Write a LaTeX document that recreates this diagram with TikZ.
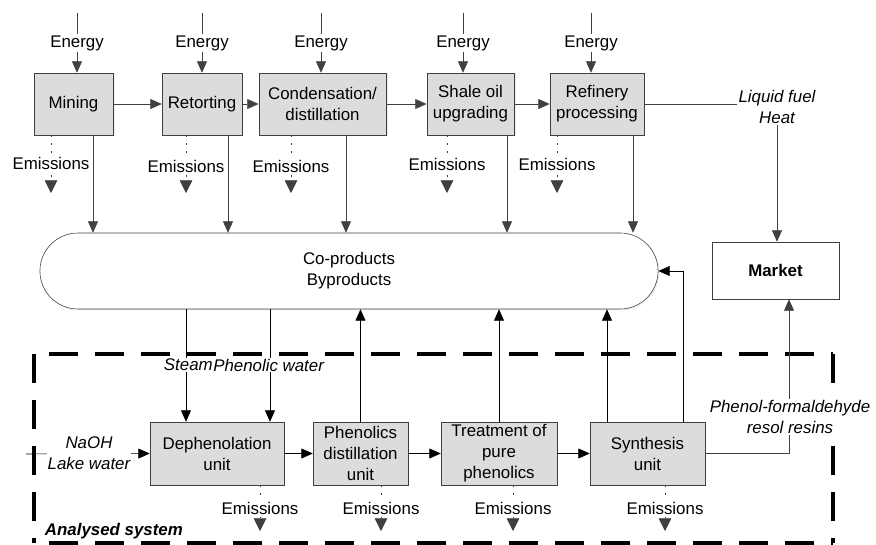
\documentclass[tikz,border=0pt]{standalone}
\usepackage{fontspec}
\setmainfont{Liberation Sans}
\usetikzlibrary{arrows.meta,shadows}

\definecolor{linegray}{RGB}{64,64,64}
\definecolor{boxgray}{RGB}{220,220,220}

\begin{document}
\begin{tikzpicture}[x=0.025cm, y=-0.025cm, font=\fontsize{12}{14.9}\selectfont,
  box/.style={draw=linegray, fill=boxgray, align=center, inner sep=0pt,
    drop shadow={shadow xshift=1pt, shadow yshift=-1pt, fill=black!15}},
  lbl/.style={fill=white, inner sep=0.6pt, align=center},
  pfeil/.style={-{Triangle[width=7pt,length=8pt]}},
  emis/.style={linegray, dash pattern=on 1.2pt off 4.5pt, -{Triangle[width=9pt,length=9pt]}},
  grenze/.style={line width=2.8pt, dash pattern=on 0.725cm off 0.425cm}]

\useasboundingbox (0,0) rectangle (876,545);

% Grenze des analysierten Systems
\coordinate (gA) at (34,354);
\coordinate (gB) at (833,354);
\coordinate (gC) at (833,543);
\coordinate (gD) at (34,543);
\draw[grenze, dash phase=0.775cm] (gA) -- (gB);
\draw[grenze, dash phase=0.775cm] (gD) -- (gC);
\draw[grenze] (gB) -- (gC);
\draw[grenze] (gA) -- (gD);
\node[anchor=west, font=\fontsize{12}{14.9}\selectfont\bfseries\itshape] (sys) at (40,531) {Analysed system};

% Prozesskette oben
\node[box, minimum width=1.98cm, minimum height=1.55cm] (mining) at (73.5,104) {Mining};
\node[box, minimum width=2.0cm, minimum height=1.55cm] (retort) at (202,104) {Retorting};
\node[box, minimum width=3.18cm, minimum height=1.55cm] (cond) at (322.5,104) {Condensation/\\distillation};
\node[box, minimum width=2.18cm, minimum height=1.55cm] (upgrade) at (470.5,104) {Shale oil\\upgrading};
\node[box, minimum width=2.35cm, minimum height=1.55cm] (refinery) at (597,104) {Refinery\\processing};

% Sammelknoten und Markt
\node[draw=linegray, fill=white, rounded corners=0.95cm, minimum width=15.45cm, minimum height=1.9cm,
  align=center, drop shadow={shadow xshift=1pt, shadow yshift=-1pt, fill=black!12}] (coprod) at (349,271) {Co-products\\Byproducts};
\node[draw=linegray, fill=white, minimum width=3.175cm, minimum height=1.425cm,
  drop shadow={shadow xshift=1pt, shadow yshift=-1pt, fill=black!15}, font=\fontsize{12}{14.9}\selectfont\bfseries] (market) at (775.5,270.5) {Market};

% Prozesskette unten
\node[box, minimum width=3.35cm, minimum height=1.575cm] (dephen) at (217,453.5) {Dephenolation\\unit};
\node[box, minimum width=2.375cm, minimum height=1.575cm] (phendist) at (360.5,453.5) {Phenolics\\distillation\\unit};
\node[box, minimum width=2.9cm, minimum height=1.575cm] (treat) at (499,453.5) {Treatment of\\pure\\phenolics};
\node[box, minimum width=2.875cm, minimum height=1.575cm] (synth) at (647.5,453.5) {Synthesis\\unit};

% Energie-Eingaenge
\foreach \n/\x in {mining/77, retort/202, cond/321, upgrade/463, refinery/591} {
  \coordinate (t\n) at (\x,13);
  \node[lbl] (e\n) at (\x,43) {Energy};
  \draw[linegray] (t\n) -- (e\n);
  \draw[linegray, pfeil] (e\n) -- (e\n |- \n.north);
}

% Emissionen oben
\foreach \n/\x/\y in {mining/51/163, retort/186/166, cond/291/166, upgrade/447/164, refinery/557/164} {
  \coordinate (q\n) at (\x,193);
  \draw[emis] (\n.south -| q\n) -- (q\n);
  \node[lbl] (m\n) at (\x,\y) {Emissions};
}

% Hauptstrom oben
\draw[linegray, pfeil] (mining) -- (retort);
\draw[linegray, pfeil] (retort) -- (cond);
\draw[linegray, pfeil] (cond) -- (upgrade);
\draw[linegray, pfeil] (upgrade) -- (refinery);

% Nebenprodukte nach unten
\foreach \n/\x in {mining/93, retort/228, cond/346, upgrade/507, refinery/633}
  \draw[linegray, pfeil] (\n.south -| \x,0) -- (coprod.north -| \x,0);

% Produkte zum Markt
\node[lbl, font=\fontsize{12}{14.9}\selectfont\itshape] (fuel) at (777,107) {Liquid fuel\\Heat};
\draw[linegray] (refinery) -- (refinery -| fuel.west);
\draw[linegray, pfeil] (fuel.south) -- (fuel.south |- market.north);

% Dampf und phenolisches Wasser
\draw[pfeil] (coprod.south -| 186,0) -- (dephen.north -| 186,0);
\draw[pfeil] (coprod.south -| 270,0) -- (dephen.north -| 270,0);
\node[lbl, anchor=east, inner xsep=0pt, font=\fontsize{12}{14.9}\selectfont\itshape] (steam) at (213,365) {Steam};
\node[lbl, anchor=west, inner xsep=0pt, font=\fontsize{12}{14.9}\selectfont\itshape] (phwater) at (213,365) {Phenolic water};

% Zufuhr NaOH
\coordinate (naoh0) at (26,454);
\draw[pfeil] (naoh0) -- (dephen.west);
\node[lbl, font=\fontsize{12}{14.9}\selectfont\itshape] (naoh) at (89,453) {NaOH\\Lake water};

% Hauptstrom unten
\draw[pfeil] (dephen) -- (phendist);
\draw[pfeil] (phendist) -- (treat);
\draw[pfeil] (treat) -- (synth);

% Rueckfuehrung zu den Nebenprodukten
\draw[pfeil] (phendist.north) -- (phendist |- coprod.south);
\draw[pfeil] (treat.north) -- (treat |- coprod.south);
\draw[pfeil] (synth.north -| 607,0) -- (coprod.south -| 607,0);
\draw[pfeil] (synth.north -| 683,0) |- (coprod.east);

% Harze zum Markt
\draw[linegray, pfeil] (synth.east) -| (market.south -| 789,0);
\node[lbl, font=\fontsize{12}{14.9}\selectfont\itshape] (resin) at (790,417) {Phenol-formaldehyde\\resol resins};

% Emissionen unten
\foreach \n/\x in {dephen/260, phendist/381, treat/513, synth/665} {
  \coordinate (q\n) at (\x,531);
  \draw[emis] (\n.south -| q\n) -- (q\n);
  \node[lbl] (m\n) at (\x,508) {Emissions};
}

\end{tikzpicture}
\end{document}
